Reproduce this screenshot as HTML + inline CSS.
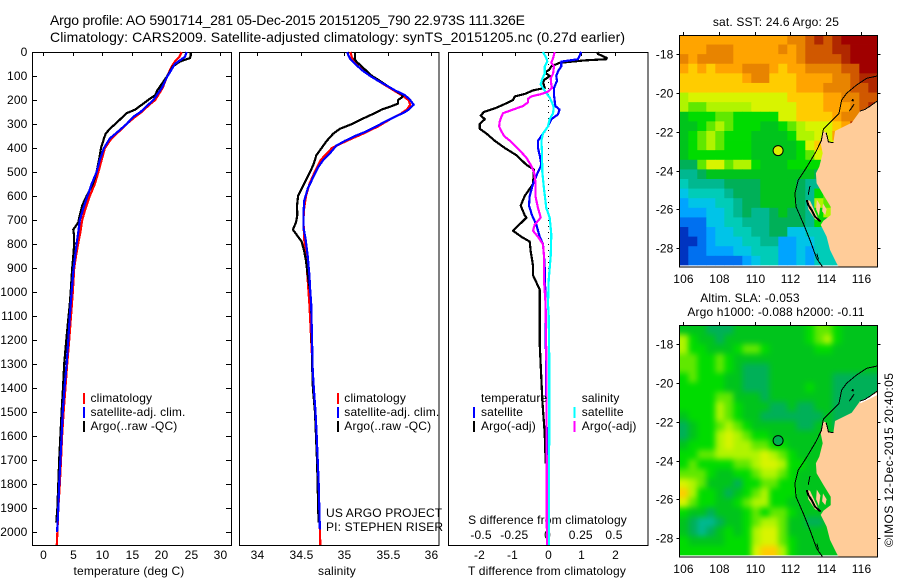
<!DOCTYPE html>
<html>
<head>
<meta charset="utf-8">
<title>Argo profile 5901714_281</title>
<style>
html,body{margin:0;padding:0;background:#fff;}
svg{display:block;}
text{font-family:"Liberation Sans",sans-serif;font-size:12px;fill:#000;letter-spacing:0.15px;}
</style>
</head>
<body>
<svg id="chart" xmlns="http://www.w3.org/2000/svg" width="900" height="580" viewBox="0 0 900 580">
  <rect x="0" y="0" width="900" height="580" fill="#fff"/>
  <text x="50" y="25" style="font-size:14px;letter-spacing:0" textLength="475" lengthAdjust="spacing">Argo profile: AO 5901714_281 05-Dec-2015 20151205_790 22.973S 111.326E</text>
  <text x="50" y="42" style="font-size:14px;letter-spacing:0" textLength="575" lengthAdjust="spacing">Climatology: CARS2009. Satellite-adjusted climatology: synTS_20151205.nc (0.27d earlier)</text>
  <text x="129" y="575" text-anchor="middle">temperature (deg C)</text>
  <text x="337" y="575" text-anchor="middle">salinity</text>
  <text x="547" y="575" text-anchor="middle">T difference from climatology</text>
  <text x="547.5" y="524" text-anchor="middle">S difference from climatology</text>
  <text x="326" y="517">US ARGO PROJECT</text>
  <text x="326" y="531">PI: STEPHEN RISER</text>
  <text x="776" y="26" text-anchor="middle">sat. SST: 24.6 Argo: 25</text>
  <text x="750" y="302" text-anchor="middle">Altim. SLA: -0.053</text>
  <text x="776" y="316" text-anchor="middle">Argo h1000: -0.088 h2000: -0.11</text>
  <text transform="translate(893,547) rotate(-90)" style="letter-spacing:0" textLength="174" lengthAdjust="spacing">©IMOS 12-Dec-2015 20:40:05</text>
  <g id="plots"></g>
  <g id="maps"></g>
</svg>
<script>
// ---- axis tick values ----
const depthTicks = [0,100,200,300,400,500,600,700,800,900,1000,1100,1200,1300,1400,1500,1600,1700,1800,1900,2000];
const tempTicks = [0,5,10,15,20,25,30];
const salTicks = [34,34.5,35,35.5,36];
const salTickLabels = ['34','34.5','35','35.5','36'];
const tDiffTicks = [-2,-1,0,1,2];
const tDiffLabels = ['-2','-1','0','1','2'];
const sDiffTicks = [-0.5,-0.25,0,0.25,0.5];
const sDiffLabels = ['-0.5','-0.25','0','0.25','0.5'];
const lonTicks = [106,108,110,112,114,116];
const latTicks = [18,20,22,24,26,28];

// ---- temperature profiles ----
const tempArgoDepth = [0,15,25,40,60,100,130,160,180,200,220,240,255,275,300,320,340,360,400,450,500,550,600,640,680,710,740,760,800,850,900,1000,1050,1100,1200,1300,1400,1500,1600,1700,1800,1900,1960];
const tempArgo = [25,25,24.9,23.2,22,21.05,20.2,19.35,19,17.8,16.7,15.6,14.15,13.3,12.2,11.3,10.6,10.3,9.8,9.45,9.05,8.4,7.35,6.6,6.2,5.95,5.1,5.2,5.25,5.1,4.9,4.65,4.5,4.3,3.9,3.55,3.35,3.1,2.9,2.7,2.55,2.4,2.2];
const tempClimDepth = [0,20,40,60,100,150,200,220,250,270,300,330,360,400,450,500,550,600,650,700,750,800,850,900,1000,1050,1100,1200,1300,1400,1500,1600,1700,1800,1900,2000,2054];
const tempClim = [23.5,23.1,22.35,21.8,21.05,20.25,19,18,16.7,15.6,14.15,12.9,11.6,10.45,9.9,9.35,8.75,7.9,7.2,6.6,6.3,5.9,5.55,5.25,5,4.85,4.7,4.4,4.05,3.75,3.45,3.2,3,2.8,2.55,2.4,2.3];
const tempSatDepth = [0,20,35,50,100,150,200,220,250,270,300,330,360,400,450,500,550,600,650,700,750,800,850,900,1000,1100,1200,1300,1400,1500,1600,1700,1800,1900,2000];
const tempSat = [24.35,24.05,23.2,22.35,21.1,20.1,18.7,17.8,16.5,15.3,14.15,12.75,11.3,10.3,9.6,9.05,8.2,7.5,6.8,6.2,5.95,5.65,5.4,5.15,4.8,4.5,4.25,3.95,3.6,3.3,3.1,2.9,2.7,2.55,2.35];

// ---- salinity profiles ----
const salArgoDepth = [0,15,30,40,60,80,100,120,140,160,180,190,200,215,225,240,260,280,300,320,340,370,400,430,470,520,570,600,640,680,710,740,760,790,830,870,930,1000,1050,1325,1400,1500,1600,1700,1800,1900,1960];
const salArgo = [35.125,35.125,35.12,35.14,35.2,35.26,35.32,35.41,35.49,35.585,35.68,35.66,35.62,35.62,35.55,35.43,35.32,35.2,35.09,34.95,34.875,34.8,34.74,34.68,34.645,34.58,34.51,34.47,34.457,34.46,34.445,34.41,34.45,34.51,34.54,34.56,34.58,34.61,34.62,34.633,34.64,34.664,34.676,34.687,34.695,34.7,34.706];
const salClimDepth = [0,30,60,100,140,180,200,220,240,260,280,310,340,370,400,450,500,550,600,650,700,780,850,950,1050,1325,1600,1900,2054];
const salClim = [35.07,35.095,35.16,35.3,35.48,35.66,35.74,35.76,35.72,35.64,35.53,35.39,35.22,35.03,34.86,34.73,34.66,34.6,34.56,34.54,34.53,34.54,34.56,34.58,34.6,34.637,34.683,34.714,34.725];
const salSatDepth = [0,15,30,50,80,100,120,140,160,180,200,220,240,250,270,290,310,330,350,370,390,420,450,480,520,570,620,680,730,780,850,930,1000,1050,1325,1400,1500,1600,1700,1800,1900,1990];
const salSat = [35.035,35.05,35.07,35.125,35.22,35.3,35.39,35.49,35.585,35.7,35.76,35.8,35.74,35.7,35.585,35.47,35.37,35.26,35.125,35.01,34.91,34.84,34.76,34.7,34.645,34.58,34.54,34.53,34.53,34.556,34.58,34.6,34.61,34.62,34.637,34.65,34.67,34.683,34.695,34.706,34.714,34.72];

// ---- temperature differences ----
const tDiffArgoDepth = [0,8,25,30,35,45,60,75,85,100,115,125,150,160,175,185,200,220,235,250,265,280,300,320,340,370,400,430,470,490,550,600,640,680,690,745,770,790,830,890,930,990,1050,1214,1366,1450,1589,1714];
const tDiffArgo = [1.48,1.5,1.77,1.75,1.1,0.35,0.1,0.03,-0.1,0.05,-0.1,-0.15,-0.1,-0.45,-0.7,-1,-1.05,-1.35,-1.6,-1.93,-2.02,-1.9,-2.05,-2.05,-1.85,-1.6,-1.3,-0.95,-0.65,-0.42,-0.45,-0.7,-0.82,-0.7,-0.65,-1.05,-0.8,-0.55,-0.52,-0.45,-0.45,-0.25,-0.25,-0.25,-0.2,-0.17,-0.1,-0.07];
const tDiffSatDepth = [0,15,30,40,60,80,100,120,150,180,200,225,240,260,280,310,340,370,400,430,470,500,550,600,640,680,720,770,800,850,900,1000,1300,1700,2054];
const tDiffSat = [1,0.95,0.9,0.4,0.4,0.3,0.25,0.27,0.18,0.18,0.2,0.22,0.35,0.3,0.1,0,-0.15,-0.3,-0.3,-0.25,-0.2,-0.3,-0.45,-0.55,-0.57,-0.48,-0.35,-0.25,-0.15,-0.12,-0.1,-0.08,-0.06,-0.03,-0.01];

// ---- salinity differences ----
const sDiffSatDepth = [0,25,40,60,90,115,135,150,170,190,210,230,255,280,310,340,370,420,500,570,650,690,760,850,950,1050,1100,1300,1500,1700,1900,2054];
const sDiffSat = [-0.038,-0.013,-0.005,-0.025,-0.025,-0.045,-0.055,-0.038,-0.013,0.013,0.03,0.043,0.038,0.013,0,-0.038,-0.05,-0.045,-0.043,-0.03,-0.013,0.013,0.025,0.02,0.005,0,0.005,0.01,0.01,0.008,0.008,0.008];
const sDiffArgoDepth = [0,25,45,60,90,110,135,150,165,175,185,195,210,225,240,255,270,290,310,330,350,375,410,440,470,500,540,600,650,690,720,745,770,800,850,950,1050,1300,2054];
const sDiffArgo = [0.05,0.038,0.025,0.045,0.038,0.02,0.025,0.03,0,-0.05,-0.125,-0.15,-0.15,-0.188,-0.263,-0.338,-0.35,-0.363,-0.368,-0.35,-0.33,-0.275,-0.213,-0.163,-0.13,-0.105,-0.095,-0.095,-0.075,-0.055,-0.1,-0.113,-0.075,-0.038,-0.03,-0.03,-0.018,-0.012,-0.008];

// ---- map heatmaps: one colour-level code per 0.5 degree cell ----
const sstRows = [
"ddddddddddddeefgfghhhh",
"dddeeedddddedefffgghhh",
"edeeeedddddddeffffghhh",
"dcdcdddeeedcddeeeeffhh",
"cccccccdeecccddddeefgg",
"cccccccccccccdddeeeffg",
"abbbbbbbbbbbccccddeeff",
"a99aaaaabbbbbcccdddefg",
"78889988888bbccccdeegg",
"7789a98887789abbbcdggg",
"789a988877778aabbddddd",
"789a9888777778bcbb9999",
"788888887777789bb87777",
"669bb9aa87778888787777",
"5567777777777776677777",
"4555566667777655887777",
"3444456667777658988888",
"233344566777765a9a8888",
"2223345655676658a98888",
"1113344555666658755555",
"0112334455663344455555",
"0012333445522334444444",
"0112223344422324444444",
"0111111234422324444444"];
const slaRows = [
"7776667777777789987777",
"a877677777777789a87777",
"a887778998777778877777",
"9988987777777777777777",
"9988987666777777777777",
"8988877666777777766666",
"8888877666777787766666",
"8888997776777777766666",
"8888a98777667667766666",
"7888a98776666666766666",
"67889a9877777667766666",
"6788aba988777777776666",
"7888abaa99887777766666",
"8899aaaaaba98777777777",
"89888899abba8877777777",
"999877889aa98777777777",
"ba97776889988777777777",
"ca8876789a888777777777",
"b9887789aa887777777777",
"8776777898998777777777",
"765567789aa97766777777",
"76567878abb97777777777",
"87777888abb98777777777",
"88888888bcca8777777777"];
const levelCodes = '0123456789abcdefgh';
const levelColors = ['#0034c0','#0070f0','#00a4ff','#00c4e8','#00ccb8','#00b890','#00b058','#00c41c','#00dc00','#60e800','#b0f400','#d8f400','#ffcc00','#ffa400','#e88400','#d05800','#b02800','#a00000'];

// ---- geography (longitude, south latitude) ----
const landLon = [116.9,116.49,115.93,115.46,114.52,114.43,114.15,114.02,113.85,113.72,113.83,113.64,113.45,113.49,113.87,114.28,114.28,113.87,113.72,114.05,114.24,114.61,114.75,116.9];
const landLat = [20.41,20.68,20.93,21.53,21.96,22.56,22.53,22.05,21.96,22.6,23.11,23.8,24.14,24.66,25.26,25.87,26.3,26.59,26.81,27.41,28.1,28.79,29,29];
const islandLon = [112.93,113.12,113.53,113.72,113.4,113.02];
const islandLat = [25.52,25.56,26.38,26.64,26.52,26];
const peninsulaLon = [113.85,113.8,113.98,114.05];
const peninsulaLat = [25.7,26.1,26.3,26];
const peronLon = [113.5,113.46,113.62,113.7];
const peronLat = [25.5,26,26.35,25.8];
const contourLon = [116.9,116.3,115.74,115.18,114.9,114.75,114.15,113.87,113.75,113.45,112.93,112.46,112.27,112.33,112.74,113.12,113.49,113.81];
const contourLat = [19.12,19.24,19.58,20.01,20.36,21.05,21.6,21.87,22.46,23.03,23.83,24.49,25.18,25.87,26.73,27.59,28.53,28.96];
const hartogLon = [112.93,113.02,113.21,113.4,113.72];
const hartogLat = [25.52,25.78,26.04,26.38,26.64];
const steepLon = [113.12,113.05,113.02];
const steepLat = [24.8,25.1,25.25];
const gulfLon = [114.02,114.1,114.15,114.43];
const gulfLat = [22.05,22.3,22.53,22.56];
const northCoastLon = [115.93,116.2,116.49,116.9];
const northCoastLat = [20.93,20.85,20.68,20.41];
const barrowLon = [115.59,115.33];
const barrowLat = [20.58,20.93];
const barrowDotLon = [115.47,115.57];
const barrowDotLat = [20.35,20.4];
const shoalLon = [113.5,113.6];
const shoalLat = [28.3,28.6];
const gapLon = [115.93,116.67,116.9];
const gapLat = [21,20.67,20.56];
const profileLon = [111.326];
const profileLat = [22.973];

const NS = 'http://www.w3.org/2000/svg';
const plots = document.getElementById('plots');
const maps = document.getElementById('maps');

function make(tag, attrs, parent) {
  const e = document.createElementNS(NS, tag);
  for (const k in attrs) e.setAttribute(k, attrs[k]);
  parent.appendChild(e);
  return e;
}

// ---- axis functions ----
const yDepth = d => 52 + 0.24 * d;
const xTemp = t => 43.3 + 5.89 * t;
const xSal = s => 257.3 + 86.9 * (s - 34);
const xTDiff = t => 548 + 33.25 * t;
const xSDiff = s => 548 + 133 * s;
const xLon = lon => 683.3 + 17.8 * (lon - 106);
const yLat1 = lat => 54.3 + 19.37 * (lat - 18);
const yLat2 = lat => 344.3 + 19.37 * (lat - 18);

function addLabel(parent, x, y, str, anchor, name) {
  const t = make('text', {x: x, y: y, 'text-anchor': anchor}, parent);
  t.textContent = str;
  
  
  return t;
}

function addTick(parent, x1, y1, x2, y2, name) {
  const l = make('line', {x1: x1, y1: y1, x2: x2, y2: y2, stroke: '#000', 'stroke-width': 1, 'shape-rendering': 'crispEdges'}, parent);
  
  
}

function addFrame(parent, x, y, w, h, name) {
  const r = make('rect', {x: x, y: y, width: w, height: h, fill: 'none', stroke: '#000', 'stroke-width': 1, 'shape-rendering': 'crispEdges'}, parent);
  
  
}

function addProfile(parent, depths, vals, xf, color, width, name) {
  const pts = depths.map((d, i) => xf(vals[i]).toFixed(1) + ',' + yDepth(d).toFixed(1)).join(' ');
  const p = make('polyline', {points: pts, fill: 'none', stroke: color, 'stroke-width': width, 'shape-rendering': 'crispEdges', 'stroke-linejoin': 'round'}, parent);
  
  
}

function addSwatch(parent, x, y, color, name) {
  const r = make('rect', {x: x, y: y, width: 2, height: 11, fill: color}, parent);
  
  
}

// ---- panel frames ----
const PT = 52, PB = 545;
addFrame(plots, 32.5, PT + 0.5, 199, PB - PT, 'temperature-panel-frame');
addFrame(plots, 239.5, PT + 0.5, 199.5, PB - PT, 'salinity-panel-frame');
addFrame(plots, 448.5, PT + 0.5, 199.5, PB - PT, 'difference-panel-frame');

// ---- depth axis ----
depthTicks.forEach(d => {
  const y = Math.round(yDepth(d)) + 0.5;
  addTick(plots, 33, y, 37, y, 'depth-tick-left');
  addTick(plots, 226, y, 231, y, 'depth-tick-right');
  addLabel(plots, 27.5, y + 3.5, String(d), 'end', 'depth-tick-label');
});

// ---- x axes ----
tempTicks.forEach(t => {
  const x = Math.round(xTemp(t)) + 0.5;
  addTick(plots, x, 53, x, 56, 'temperature-tick');
  addLabel(plots, x, 559, String(t), 'middle', 'temperature-tick-label');
});
salTicks.forEach((s, i) => {
  const x = Math.round(xSal(s)) + 0.5;
  addTick(plots, x, 53, x, 56, 'salinity-tick');
  addLabel(plots, x, 559, salTickLabels[i], 'middle', 'salinity-tick-label');
});
tDiffTicks.forEach((t, i) => {
  const x = Math.round(xTDiff(t)) + 0.5;
  addTick(plots, x, 53, x, 56, 't-difference-tick');
  addLabel(plots, t < 0 ? x - 3 : x, 559, tDiffLabels[i], 'middle', 't-difference-tick-label');
});
sDiffTicks.forEach((s, i) => {
  addLabel(plots, xSDiff(s) - 0.5, 539, sDiffLabels[i], 'middle', 's-difference-tick-label');
});

// ---- zero reference ----
const zeroLine = make('line', {x1: 548.5, y1: yDepth(0), x2: 548.5, y2: yDepth(1000), stroke: '#000', 'stroke-width': 1, 'stroke-dasharray': '1 5', 'shape-rendering': 'crispEdges'}, plots);



// ---- series ----
const SW = 2.2;
addProfile(plots, tempClimDepth, tempClim, xTemp, '#ff0000', SW, 'temperature-climatology-line');
addProfile(plots, tempArgoDepth, tempArgo, xTemp, '#000000', SW, 'temperature-argo-line');
addProfile(plots, tempSatDepth, tempSat, xTemp, '#0000ff', SW, 'temperature-satellite-line');
addProfile(plots, salClimDepth, salClim, xSal, '#ff0000', SW, 'salinity-climatology-line');
addProfile(plots, salArgoDepth, salArgo, xSal, '#000000', SW, 'salinity-argo-line');
addProfile(plots, salSatDepth, salSat, xSal, '#0000ff', SW, 'salinity-satellite-line');
addProfile(plots, tDiffArgoDepth, tDiffArgo, xTDiff, '#000000', SW, 't-difference-argo-line');
addProfile(plots, tDiffSatDepth, tDiffSat, xTDiff, '#0000ff', SW, 't-difference-satellite-line');
addProfile(plots, sDiffSatDepth, sDiffSat, xSDiff, '#00ffff', SW, 's-difference-satellite-line');
addProfile(plots, sDiffArgoDepth, sDiffArgo, xSDiff, '#ff00ff', SW, 's-difference-argo-line');

// ---- legends ----
addSwatch(plots, 83, 393, '#ff0000', 'temperature-legend-climatology-swatch');
addSwatch(plots, 83, 407, '#0000ff', 'temperature-legend-satellite-swatch');
addSwatch(plots, 83, 421, '#000000', 'temperature-legend-argo-swatch');
addLabel(plots, 90.5, 402, 'climatology', 'start', 'temperature-legend-climatology');
addLabel(plots, 90.5, 416, 'satellite-adj. clim.', 'start', 'temperature-legend-satellite');
addLabel(plots, 90.5, 430, 'Argo(..raw -QC)', 'start', 'temperature-legend-argo');
addSwatch(plots, 337, 393, '#ff0000', 'salinity-legend-climatology-swatch');
addSwatch(plots, 337, 407, '#0000ff', 'salinity-legend-satellite-swatch');
addSwatch(plots, 337, 421, '#000000', 'salinity-legend-argo-swatch');
addLabel(plots, 344.3, 402, 'climatology', 'start', 'salinity-legend-climatology');
addLabel(plots, 344.3, 416, 'satellite-adj. clim.', 'start', 'salinity-legend-satellite');
addLabel(plots, 344.3, 430, 'Argo(..raw -QC)', 'start', 'salinity-legend-argo');
addLabel(plots, 481, 402, 'temperature', 'start', 'difference-legend-temperature-heading');
addSwatch(plots, 473, 407, '#0000ff', 'difference-legend-t-satellite-swatch');
addLabel(plots, 481, 416, 'satellite', 'start', 'difference-legend-t-satellite');
addSwatch(plots, 473, 421, '#000000', 'difference-legend-t-argo-swatch');
addLabel(plots, 481, 430, 'Argo(-adj)', 'start', 'difference-legend-t-argo');
addLabel(plots, 581.7, 402, 'salinity', 'start', 'difference-legend-salinity-heading');
addSwatch(plots, 573.5, 407, '#00ffff', 'difference-legend-s-satellite-swatch');
addLabel(plots, 581.7, 416, 'satellite', 'start', 'difference-legend-s-satellite');
addSwatch(plots, 573.5, 421, '#ff00ff', 'difference-legend-s-argo-swatch');
addLabel(plots, 581.7, 430, 'Argo(-adj)', 'start', 'difference-legend-s-argo');

// ---- maps ----
const LON0 = 105.775, LON1 = 116.9, LAT0 = 17, LAT1 = 28.9;

function poly(parent, lons, lats, yf, attrs, name, tag) {
  const pts = lons.map((v, i) => xLon(v).toFixed(1) + ',' + yf(lats[i]).toFixed(1)).join(' ');
  const shape = make(tag, Object.assign({points: pts}, attrs), parent);
  
  
}

function drawMap(prefix, rows, yf, top, bottom, labelY, markerFill, smooth) {
  const defs = make('defs', {}, maps);
  const clip = make('clipPath', {id: prefix + '-clip'}, defs);
  make('rect', {x: 679.5, y: top, width: 198, height: bottom - top}, clip);
  const heatClip = make('clipPath', {id: prefix + '-heat-clip'}, defs);
  make('rect', {x: 679.5, y: top, width: 198, height: yf(LAT1) - top}, heatClip);

  const g = make('g', {'clip-path': 'url(#' + prefix + '-clip)'}, maps);
  
  

  const heatWrap = make('g', {'clip-path': 'url(#' + prefix + '-heat-clip)'}, g);
  
  
  const heat = make('g', smooth ? {style: 'filter:blur(3px)'} : {}, heatWrap);

  const dLon = (LON1 - LON0) / 22, dLat = (LAT1 - LAT0) / rows.length;
  rows.forEach((row, r) => {
    for (let c = 0; c < row.length; c++) {
      let x0 = xLon(LON0 + c * dLon), x1 = xLon(LON0 + (c + 1) * dLon);
      let y0 = yf(LAT0 + r * dLat), y1 = yf(LAT0 + (r + 1) * dLat);
      if (c === 0) x0 -= 10;
      if (c === row.length - 1) x1 += 10;
      if (r === 0) y0 -= 10;
      if (r === rows.length - 1) y1 += 10;
      const cell = make('rect', {x: x0.toFixed(2), y: y0.toFixed(2), width: (x1 - x0 + 0.4).toFixed(2), height: (y1 - y0 + 0.4).toFixed(2), fill: levelColors[levelCodes.indexOf(row[c])]}, heat);
      
      
    }
  });

  const land = {fill: '#ffcc99', stroke: 'none'};
  poly(g, landLon, landLat, yf, land, prefix + '-land', 'polygon');
  poly(g, islandLon, islandLat, yf, land, prefix + '-island', 'polygon');
  poly(g, peninsulaLon, peninsulaLat, yf, land, prefix + '-peninsula', 'polygon');
  poly(g, peronLon, peronLat, yf, land, prefix + '-peron-peninsula', 'polygon');
  if (smooth) {
    poly(g, gapLon, gapLat, yf, {fill: 'none', stroke: '#fff', 'stroke-width': 2}, prefix + '-nearshore-gap', 'polyline');
  }
  const line1 = {fill: 'none', stroke: '#000', 'stroke-width': 1, 'shape-rendering': 'crispEdges'};
  const line2 = {fill: 'none', stroke: '#000', 'stroke-width': 2, 'shape-rendering': 'crispEdges'};
  poly(g, contourLon, contourLat, yf, line1, prefix + '-shelf-contour', 'polyline');
  poly(g, hartogLon, hartogLat, yf, line2, prefix + '-hartog-coast', 'polyline');
  poly(g, steepLon, steepLat, yf, line1, prefix + '-steep-point-coast', 'polyline');
  poly(g, gulfLon, gulfLat, yf, line1, prefix + '-gulf-coast', 'polyline');
  poly(g, northCoastLon, northCoastLat, yf, line1, prefix + '-north-coast', 'polyline');
  poly(g, barrowLon, barrowLat, yf, {fill: '#ffcc99', stroke: '#000', 'stroke-width': 1, 'shape-rendering': 'crispEdges'}, prefix + '-barrow-coast', 'polyline');
  poly(g, barrowDotLon, barrowDotLat, yf, line2, prefix + '-barrow-islet', 'polyline');
  poly(g, shoalLon, shoalLat, yf, line1, prefix + '-shoal-coast', 'polyline');

  addFrame(maps, 679.5, top + 0.5, 198, bottom - top, prefix + '-map-frame');

  lonTicks.forEach(lon => {
    const x = Math.round(xLon(lon)) + 0.5;
    addTick(maps, x, top - 3, x, top, prefix + '-longitude-tick');
    addLabel(maps, x, labelY, String(lon), 'middle', prefix + '-longitude-label');
  });
  latTicks.forEach(lat => {
    const y = Math.round(yf(lat)) + 0.5;
    addTick(maps, 676.5, y, 679.5, y, prefix + '-latitude-tick-left');
    addTick(maps, 877.5, y, 880.5, y, prefix + '-latitude-tick-right');
    addLabel(maps, 673.5, y + 4, '-' + lat, 'end', prefix + '-latitude-label');
  });

  const marker = make('circle', {cx: xLon(profileLon[0]).toFixed(1), cy: yf(profileLat[0]).toFixed(1), r: 5, fill: markerFill, stroke: '#000', 'stroke-width': 1}, maps);
  
  
}

drawMap('sst', sstRows, yLat1, 35, 266.5, 283, '#d8f000', false);
drawMap('sla', slaRows, yLat2, 325, 556.5, 573, '#00b050', true);
</script>
</body>
</html>
